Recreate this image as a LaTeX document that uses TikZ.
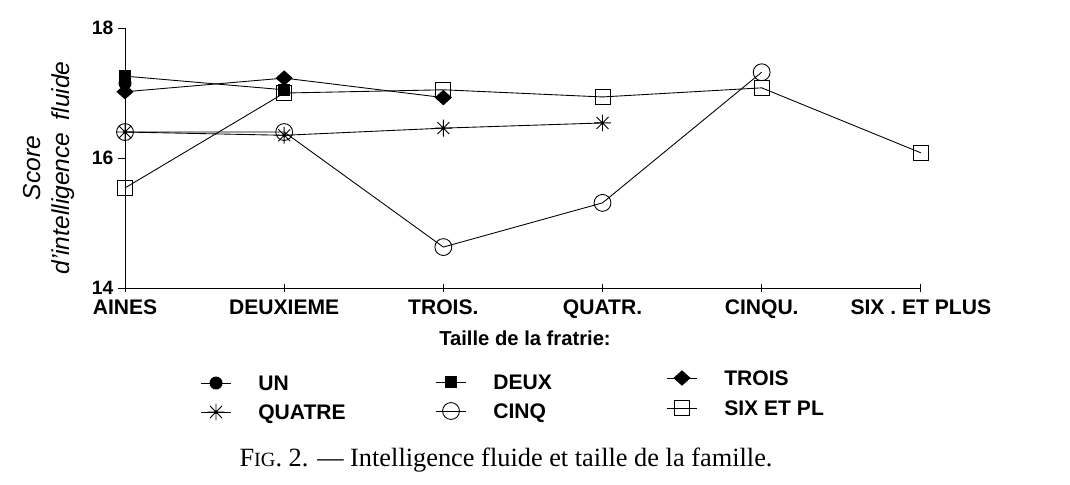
\documentclass[tikz,border=0pt]{standalone}
\usepackage{fontspec}
\setmainfont{Liberation Serif}
\setsansfont{Liberation Sans}
\usetikzlibrary{shapes.geometric}

\tikzset{
    dotmark/.style={circle,fill,inner sep=0pt,minimum size=7.4pt},
    boxmark/.style={rectangle,fill,inner sep=0pt,minimum size=6.8pt},
    diamark/.style={diamond,fill,inner sep=0pt,minimum width=10pt,minimum height=9pt},
    ringmark/.style={circle,draw,inner sep=0pt,minimum size=9.6pt},
    openbox/.style={rectangle,draw,inner sep=0pt,minimum size=8.5pt},
    starmark/.pic={
        \draw (-4.8pt,0) -- (4.8pt,0) (0,-4.8pt) -- (0,4.8pt)
              (-3.4pt,-3.4pt) -- (3.4pt,3.4pt) (-3.4pt,3.4pt) -- (3.4pt,-3.4pt);
        \fill (0,0) circle (1pt);
    },
    ticklab/.style={anchor=base,font=\sffamily\bfseries\fontsize{12}{14}\selectfont},
    keytext/.style={anchor=base west,font=\sffamily\bfseries\fontsize{12}{14}\selectfont},
}

\begin{document}
\begin{tikzpicture}[x=0.02cm,y=-0.02cm,line width=0.5pt]
    \useasboundingbox (0,0) rectangle (1070,484);

    % axes and data
    \begin{scope}[shift={(125,288)},x=3.184cm,y=1.3cm]
        \coordinate (orig) at (0,0);
        \coordinate (ytop) at (0,4);
        \coordinate (xend) at (5,0);
        \draw (ytop) -- (orig) -- (xend);
        \foreach \y/\label in {0/14, 2/16, 4/18} {
            \draw (0,\y) -- ++(-4pt,0);
            \node[anchor=east,font=\sffamily\bfseries\fontsize{11}{13}\selectfont] (ytick\y) at ([xshift=-3pt]0,\y) {\label};
        }
        \foreach \x/\label in {0/AINES, 1/DEUXIEME, 2/TROIS., 3/QUATR., 4/CINQU., 5/SIX . ET PLUS} {
            \draw (\x,0) ++(0,-2pt) -- ++(0,4pt);
            \node[ticklab] (cat\x) at (\x,-0.4) {\label};
        }

        % six et plus
        \foreach \x/\v in {0/1.54, 1/3.0, 2/3.05, 3/2.94, 4/3.08, 5/2.08}
            \coordinate (six\x) at (\x,\v);
        \draw (six0) -- (six1) -- (six2) -- (six3) -- (six4) -- (six5);
        % cinq
        \foreach \x/\v in {0/2.4, 1/2.4, 2/0.63, 3/1.31, 4/3.32}
            \coordinate (cinq\x) at (\x,\v);
        \draw (cinq0) -- (cinq1) -- (cinq2) -- (cinq3) -- (cinq4);
        % quatre
        \foreach \x/\v in {0/2.4, 1/2.35, 2/2.46, 3/2.54}
            \coordinate (quatre\x) at (\x,\v);
        \draw (quatre0) -- (quatre1) -- (quatre2) -- (quatre3);
        % trois
        \foreach \x/\v in {0/3.02, 1/3.23, 2/2.93}
            \coordinate (trois\x) at (\x,\v);
        \draw (trois0) -- (trois1) -- (trois2);
        % deux
        \foreach \x/\v in {0/3.26, 1/3.05}
            \coordinate (deux\x) at (\x,\v);
        \draw (deux0) -- (deux1);
        % un
        \coordinate (un0) at (0,3.15);

        \foreach \x in {0,...,5} \node[openbox] (sixm\x) at (six\x) {};
        \foreach \x in {0,...,4} \node[ringmark] (cinqm\x) at (cinq\x) {};
        \foreach \x in {0,...,3} \pic at (quatre\x) {starmark};
        \foreach \x in {0,...,2} \node[diamark] (troism\x) at (trois\x) {};
        \foreach \x in {0,1} \node[boxmark] (deuxm\x) at (deux\x) {};
        \node[dotmark] (unm0) at (un0) {};
    \end{scope}

    \node[rotate=90,align=center,font=\sffamily\itshape\fontsize{14}{16}\selectfont] (ytitle) at (49,168)
        {Score\\d'intelligence\enspace fluide};
    \node[font=\sffamily\bfseries\fontsize{11.5}{13}\selectfont] (xtitle) at (525,338) {Taille de la fratrie:};

    % legend
    \foreach \x/\y/\name/\txt in {216/383/un/UN, 451/382/deux/DEUX, 682/378/trois/TROIS,
                                 216/412/quatre/QUATRE, 451/411/cinq/CINQ, 682/408/six/SIX ET PL} {
        \coordinate (key\name) at (\x,\y);
        \draw ([xshift=-8.5pt]key\name) -- ([xshift=8.5pt]key\name);
        \node[keytext] (txt\name) at (\x+36,\y+7) {\txt};
    }
    \node[dotmark] (keymun) at (keyun) {};
    \node[boxmark] (keymdeux) at (keydeux) {};
    \node[diamark] (keymtrois) at (keytrois) {};
    \pic at (keyquatre) {starmark};
    \node[ringmark] (keymcinq) at (keycinq) {};
    \node[openbox] (keymsix) at (keysix) {};

    \node[font=\fontsize{15}{17}\selectfont] (caption) at (506,460)
        {F{\fontsize{11.5}{13}\selectfont IG}. 2. --- Intelligence fluide et taille de la famille.};
\end{tikzpicture}
\end{document}
